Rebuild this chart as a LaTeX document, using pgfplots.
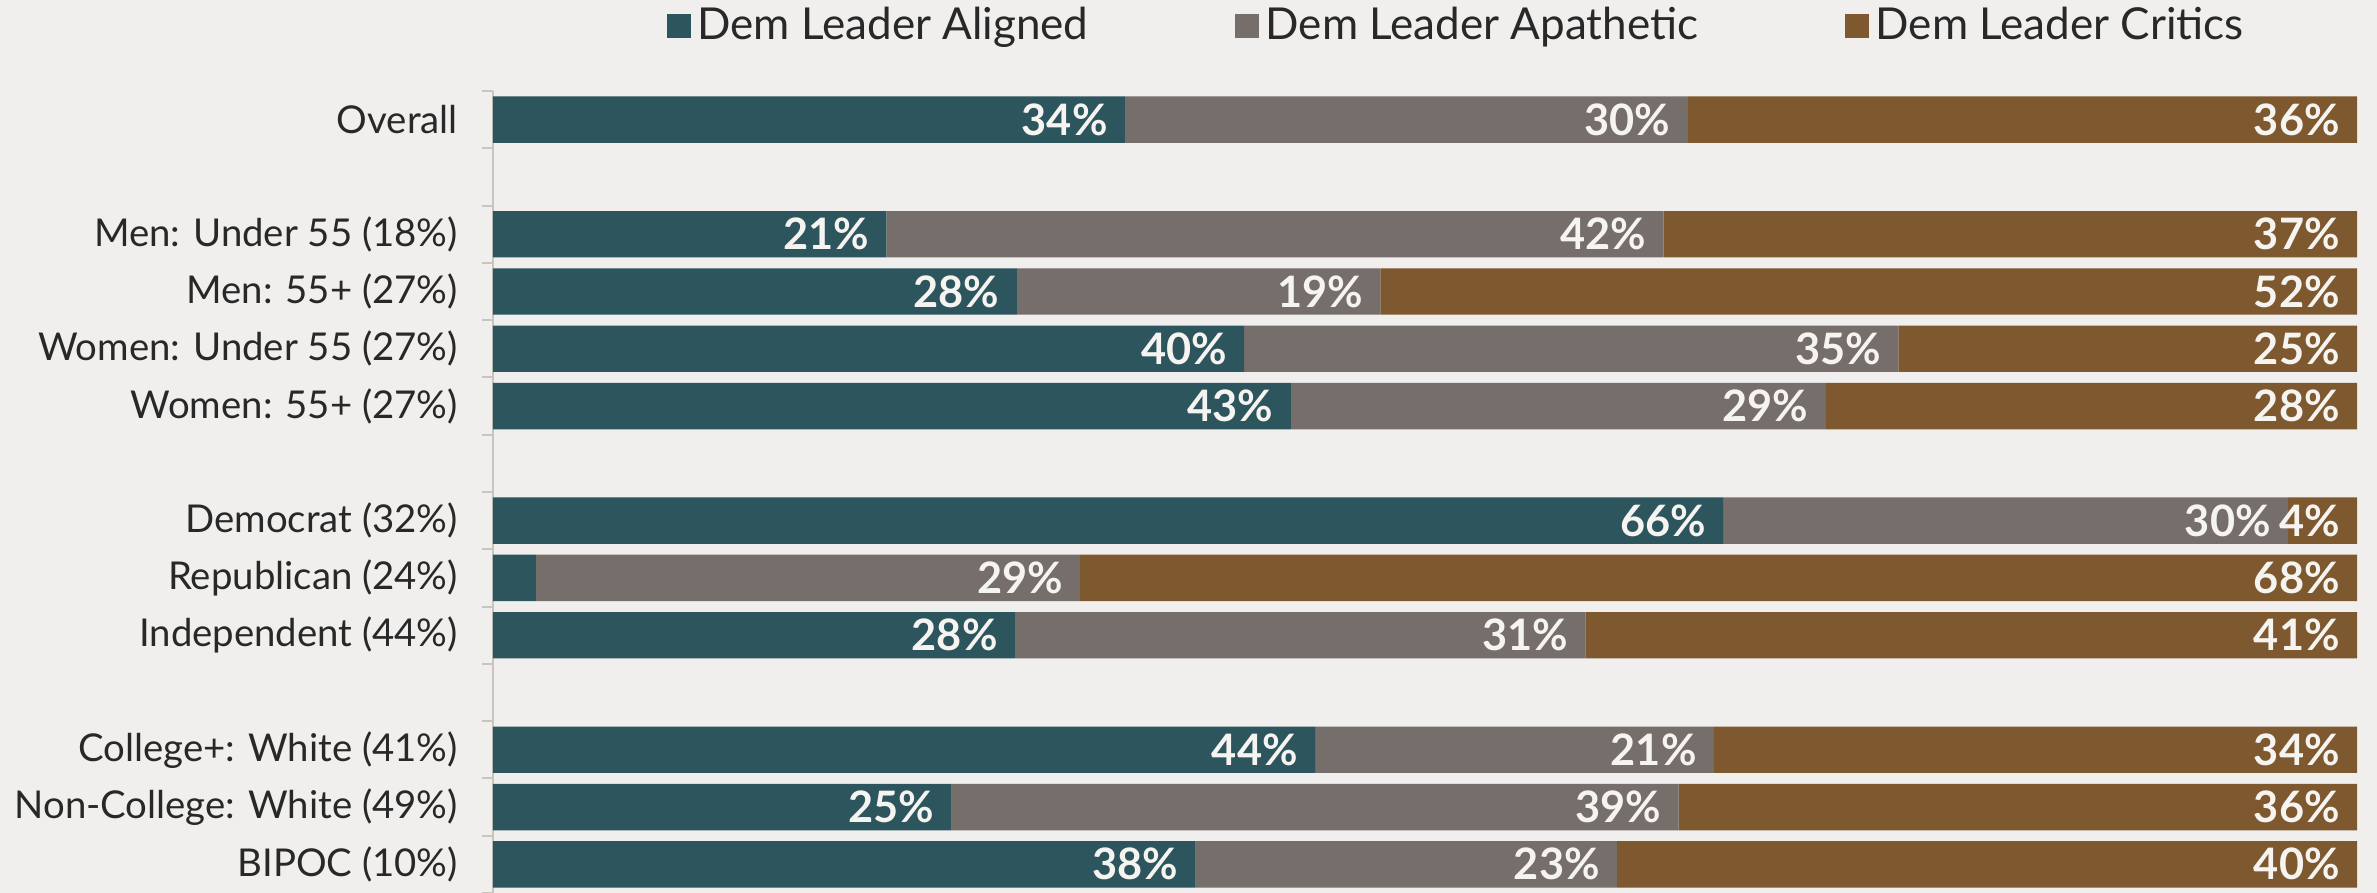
\documentclass[border=0pt]{standalone}
\usepackage{fontspec}
\setmainfont{Lato}
\usepackage{pgfplots}
\pgfplotsset{compat=1.18}
\usepackage{pgfplotstable}
\definecolor{cA}{RGB}{45,85,94}
\definecolor{cB}{RGB}{118,110,106}
\definecolor{cC}{RGB}{126,88,47}
\definecolor{bg}{RGB}{240,239,237}
\definecolor{txt}{RGB}{40,40,40}
\definecolor{axisgray}{RGB}{200,196,190}
\definecolor{lbl}{RGB}{246,244,241}

\pgfplotstableread{
y  a    b    c    la lb lc
13 33.9 30.2 35.9 34 30 36
11 21.1 41.7 37.2 21 42 37
10 28.1 19.5 52.4 28 19 52
9  40.3 35.1 24.6 40 35 25
8  42.8 28.7 28.5 43 29 28
6  66.0 30.3 3.7  66 30 4
5  2.3  29.2 68.5 0  29 68
4  28.0 30.6 41.4 28 31 41
2  44.1 21.4 34.5 44 21 34
1  24.6 39.0 36.4 25 39 36
0  37.7 22.6 39.7 38 23 40
}\datatable

\pgfplotsset{
  lab/.style={
    visualization depends on={rawx \as \segw},
    nodes near coords={\pgfmathfloattoint{\pgfplotspointmeta}\let\v\pgfmathresult\ifnum\v>0 \v\%\fi},
    every node near coord/.append style={anchor=east, inner sep=0pt,
      xshift={\segw*2.796pt-5pt},
      font=\bfseries\fontsize{13}{14}\selectfont, text=lbl},
  },
}

\begin{document}
\begin{tikzpicture}
\fill[bg] (-147.9pt,0pt) rectangle (565.2pt,267.9pt);
\begin{axis}[
  at={(0pt,0pt)}, anchor=south west,
  scale only axis, width=559.2pt, height=240.6pt,
  xbar stacked, bar width=0.81,
  xmin=0, xmax=100, ymin=-0.5, ymax=13.5,
  axis x line=none, axis y line*=left,
  y axis line style={axisgray, line width=0.6pt, -},
  ytick={0,1,2,4,5,6,8,9,10,11,13},
  yticklabels={BIPOC (10\%), Non-College: White (49\%), College+: White (41\%), Independent (44\%), Republican (24\%), Democrat (32\%), Women: 55+ (27\%), Women: Under 55 (27\%), Men: 55+ (27\%), Men: Under 55 (18\%), Overall},
  major tick length=0pt,
  minor ytick={-0.5,0.5,...,13.5},
  minor tick length=3.4pt,
  tick align=outside,
  ytick pos=left,
  tick style={axisgray, line width=0.6pt},
  yticklabel style={font=\fontsize{11.5}{13}\selectfont, text=txt, xshift=-7pt},
  point meta=explicit,
  legend style={at={(0.518,1)}, anchor=center, yshift=19.5pt, draw=none, fill=none,
    legend columns=3, font=\fontsize{13.2}{14}\selectfont, text=txt,
    /tikz/every even column/.append style={column sep=42pt}},
  legend image code/.code={\fill[#1] (0pt,-3.6pt) rectangle (7.2pt,3.6pt);},
]
\addplot[fill=cA, draw=none, lab] table[x=a, y=y, meta=la] {\datatable};
\addplot[fill=cB, draw=none, lab] table[x=b, y=y, meta=lb] {\datatable};
\addplot[fill=cC, draw=none, lab] table[x=c, y=y, meta=lc] {\datatable};
\legend{Dem Leader Aligned, Dem Leader Apathetic, Dem Leader Critics}
\end{axis}
\pgfresetboundingbox
\useasboundingbox (-147.9pt,0pt) rectangle (565.2pt,267.9pt);
\end{tikzpicture}
\end{document}
